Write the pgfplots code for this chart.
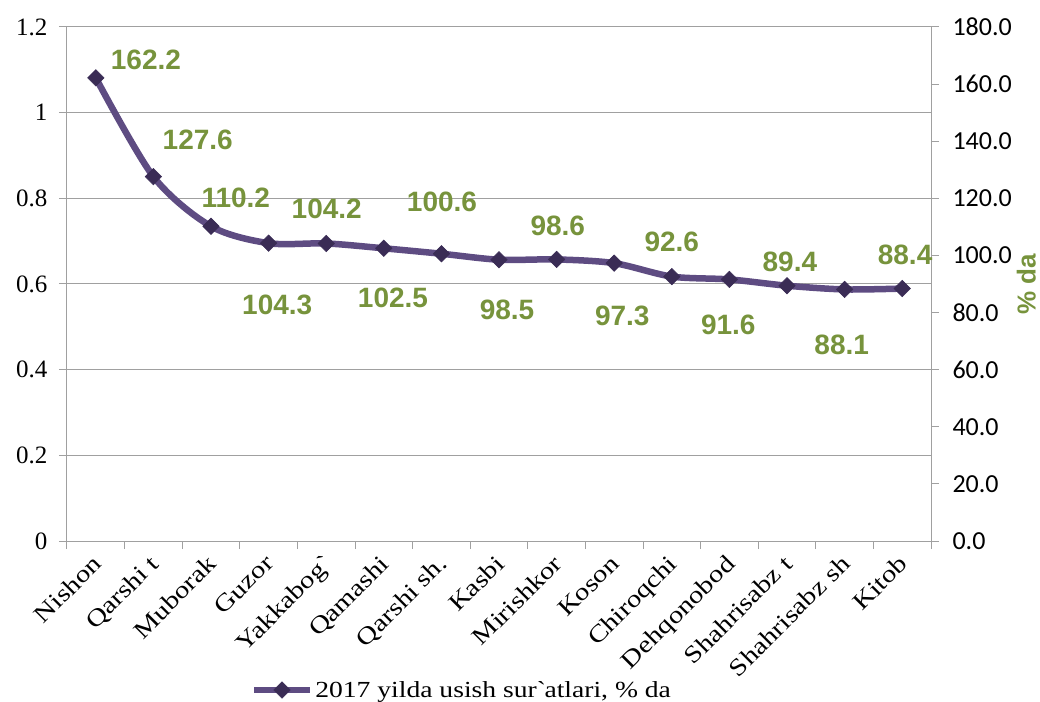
\documentclass[border=0pt]{standalone}
\usepackage{fontspec}
\setmainfont{Liberation Serif}
\newfontfamily\timeswide[FakeStretch=1.2]{Liberation Serif}
\newfontfamily\calibri{Carlito}
\newfontfamily\arialfont{Liberation Sans}
\usepackage{pgfplots}
\usepackage{pgfplotstable}
\pgfplotsset{compat=1.18}

\definecolor{lineviolet}{RGB}{94,76,130}
\definecolor{markviolet}{RGB}{58,44,85}
\definecolor{labgreen}{RGB}{119,147,60}
\definecolor{gridgray}{RGB}{160,160,160}

% growth rate, % (right axis)
\pgfplotstableread{
x y
0 162.2
1 127.6
2 110.2
3 104.3
4 104.2
5 102.5
6 100.6
7 98.5
8 98.6
9 97.3
10 92.6
11 91.6
12 89.4
13 88.1
14 88.4
}\growth

% where the data labels sit
\pgfplotstableread{
x y lab
0.87 168.4 162.2
1.77 140.4 127.6
2.43 120.1 110.2
3.15 82.6 104.3
4.01 116.3 104.2
5.16 85.1 102.5
6.01 118.7 100.6
7.14 80.9 98.5
8.02 110.3 98.6
9.14 78.8 97.3
10.00 104.7 92.6
10.98 75.6 91.6
12.05 97.7 89.4
12.95 68.6 88.1
14.05 100.2 88.4
}\labels

\begin{document}
\begin{tikzpicture}[font=\fontsize{25}{28}\selectfont]
\begin{axis}[
  name=ax,
  scale only axis,
  width=864pt, height=514pt,
  xmin=-0.5, xmax=14.5,
  ymin=0, ymax=1.2,
  axis x line*=bottom, axis y line*=left,
  axis line style={gridgray, line width=1pt},
  tick style={gridgray, line width=1pt},
  tick align=outside,
  major tick length=8pt,
  ytick={0,0.2,0.4,0.6,0.8,1,1.2},
  yticklabels={0,0.2,0.4,0.6,0.8,1,1.2},
  yticklabel style={font=\fontsize{25}{28}\selectfont, xshift=-8pt},
  ymajorgrids,
  grid style={gridgray, line width=1pt},
  xtick={-0.5,0.5,1.5,2.5,3.5,4.5,5.5,6.5,7.5,8.5,9.5,10.5,11.5,12.5,13.5,14.5},
  xticklabels={,,,,,,,,,,,,,,,},
  extra x ticks={0,1,2,3,4,5,6,7,8,9,10,11,12,13,14},
  extra x tick labels={Nishon,Qarshi t,Muborak,Guzor,Yakkabog\textasciigrave,Qamashi,Qarshi sh.,Kasbi,Mirishkor,Koson,Chiroqchi,Dehqonobod,Shahrisabz t,Shahrisabz sh,Kitob},
  extra x tick style={major tick length=0pt, grid=none,
    tick label style={xshift=-5pt, yshift=-11pt, rotate=45, anchor=north east, inner sep=1pt,
      font=\timeswide\fontsize{24}{26}\selectfont}},
  /pgf/number format/assume math mode=true,
]
\end{axis}
\begin{axis}[
  scale only axis,
  width=864pt, height=514pt,
  xmin=-0.5, xmax=14.5,
  ymin=0, ymax=180,
  axis x line=none, axis y line*=right,
  axis line style={gridgray, line width=1pt},
  tick style={gridgray, line width=1pt},
  tick align=outside,
  major tick length=8pt,
  ytick={0,20,40,60,80,100,120,140,160,180},
  yticklabel style={font=\calibri\fontsize{26}{28}\selectfont, xshift=10pt,
    /pgf/number format/.cd, fixed, fixed zerofill, precision=1, assume math mode=true},
  ylabel={\% da},
  ylabel style={labgreen, font=\arialfont\bfseries\fontsize{26}{30}\selectfont, yshift=2pt},
  legend style={at={(0.457,-0.29)}, anchor=center, draw=none, fill=none,
    font=\timeswide\fontsize{23}{26}\selectfont, inner sep=0pt},
  legend image code/.code={
    \draw[mark repeat=2, mark phase=2, #1] plot coordinates {(0pt,0pt) (28pt,0pt) (56pt,0pt)};},
]
\addplot[lineviolet, line width=6.5pt, smooth, mark=square*, mark size=5.8pt,
  mark options={rotate=45, fill=markviolet, draw=markviolet, line width=0.6pt}] table[x=x, y=y] {\growth};
\addlegendentry{2017 yilda usish sur\textasciigrave atlari, \% da}
\addplot[only marks, mark=none, nodes near coords, point meta=explicit symbolic,
  every node near coord/.append style={anchor=center, labgreen,
    font=\arialfont\bfseries\fontsize{28}{30}\selectfont}, forget plot]
  table[x=x, y=y, meta=lab] {\labels};
\end{axis}
\pgfresetboundingbox
\path[use as bounding box] ([shift={(-67pt,-160pt)}]ax.south west) rectangle ([shift={(109pt,27pt)}]ax.north east);
\end{tikzpicture}
\end{document}
